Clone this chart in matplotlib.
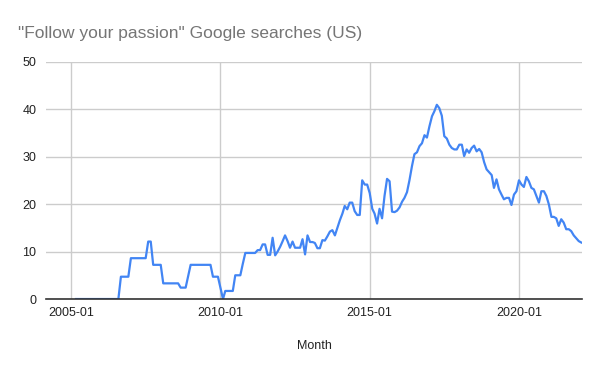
import pandas as pd
import numpy as np
import matplotlib
matplotlib.use('Agg')
import matplotlib.pyplot as plt
import matplotlib.dates as mdates

plt.rcParams['font.family'] = ['Liberation Sans', 'DejaVu Sans']

# Monthly search interest, starting 2005-03
start_month = '2005-03'
interest = (
    [0.0] * 18
    + [4.7] * 4
    + [8.6] * 7
    + [12.1] * 2
    + [7.2] * 4
    + [3.3] * 7
    + [2.4] * 3
    + [4.8]
    + [7.2] * 9
    + [4.7] * 3
    + [2.4, 0.0]
    + [1.7] * 4
    + [5.0] * 3
    + [7.4]
    + [9.7] * 5
    + [10.3, 10.3, 11.5, 11.5, 9.3, 9.3, 12.9, 9.2, 10.0, 11.0,
       12.2, 13.4, 12.2, 10.8, 12.1, 10.8, 10.8, 10.8, 12.6, 9.4,
       13.4, 12.0, 12.0, 11.8, 10.7, 10.7, 12.4, 12.3, 13.2, 14.2,
       14.5, 13.4, 15.0, 16.6, 18.0, 19.6, 18.9, 20.3, 20.3, 18.5,
       17.7, 17.7, 25.0, 24.1, 24.1, 22.3, 19.0, 18.0, 15.9, 19.0,
       17.0, 21.7, 25.3, 24.8, 18.4, 18.3, 18.6, 19.3, 20.5, 21.3,
       22.5, 25.0, 28.0, 30.5, 30.9, 32.2, 32.8, 34.5, 34.0, 36.4,
       38.5, 39.5, 40.9, 40.2, 38.6, 34.3, 33.8, 32.5, 31.8, 31.5,
       31.5, 32.5, 32.5, 30.1, 31.5, 30.8, 31.8, 32.3, 31.1, 31.6,
       30.9, 28.8, 27.3, 26.7, 26.1, 23.4, 25.2, 23.1, 22.0, 21.0,
       21.3, 21.3, 19.8, 22.0, 22.7, 25.0, 24.1, 23.6, 25.7, 24.8,
       23.4, 23.1, 21.7, 20.3, 22.7, 22.7, 21.7, 19.9, 17.3, 17.3,
       17.0, 15.4, 16.8, 16.1, 14.7, 14.7, 14.3, 13.4, 12.8, 12.2,
       11.9]
)
months = pd.date_range(start=start_month, periods=len(interest), freq='MS')

tick_dates = pd.to_datetime(['2005-01-01', '2010-01-01', '2015-01-01', '2020-01-01'])
y_ticks = [0, 10, 20, 30, 40, 50]

fig = plt.figure(figsize=(6, 3.71), dpi=100)
ax = fig.add_axes([0.077, 0.194, 0.893, 0.64])

ax.plot(months, interest, color='#4285f4', linewidth=1.6)

ax.set_xlim(pd.Timestamp('2004-03-01'), pd.Timestamp('2022-02-10'))
ax.set_ylim(0, 50)
ax.set_xticks(tick_dates)
ax.xaxis.set_major_formatter(mdates.DateFormatter('%Y-%m'))
ax.set_yticks(y_ticks)

ax.grid(True, color='#cccccc', linewidth=1)
ax.set_axisbelow(True)
for side in ['top', 'right', 'left']:
    ax.spines[side].set_visible(False)
ax.spines['bottom'].set_color('#333333')
ax.spines['bottom'].set_linewidth(1.2)
ax.spines['bottom'].set_zorder(3)
ax.tick_params(length=0, labelsize=9, colors='#222222')
ax.tick_params(axis='x', pad=6)
ax.tick_params(axis='y', pad=7)

ax.set_xlabel('Month', fontsize=9, color='#222222', labelpad=15)
fig.text(0.03, 0.91, '"Follow your passion" Google searches (US)',
         fontsize=12.5, color='#757575', va='center', ha='left')

plt.savefig('out.png', dpi=100)
